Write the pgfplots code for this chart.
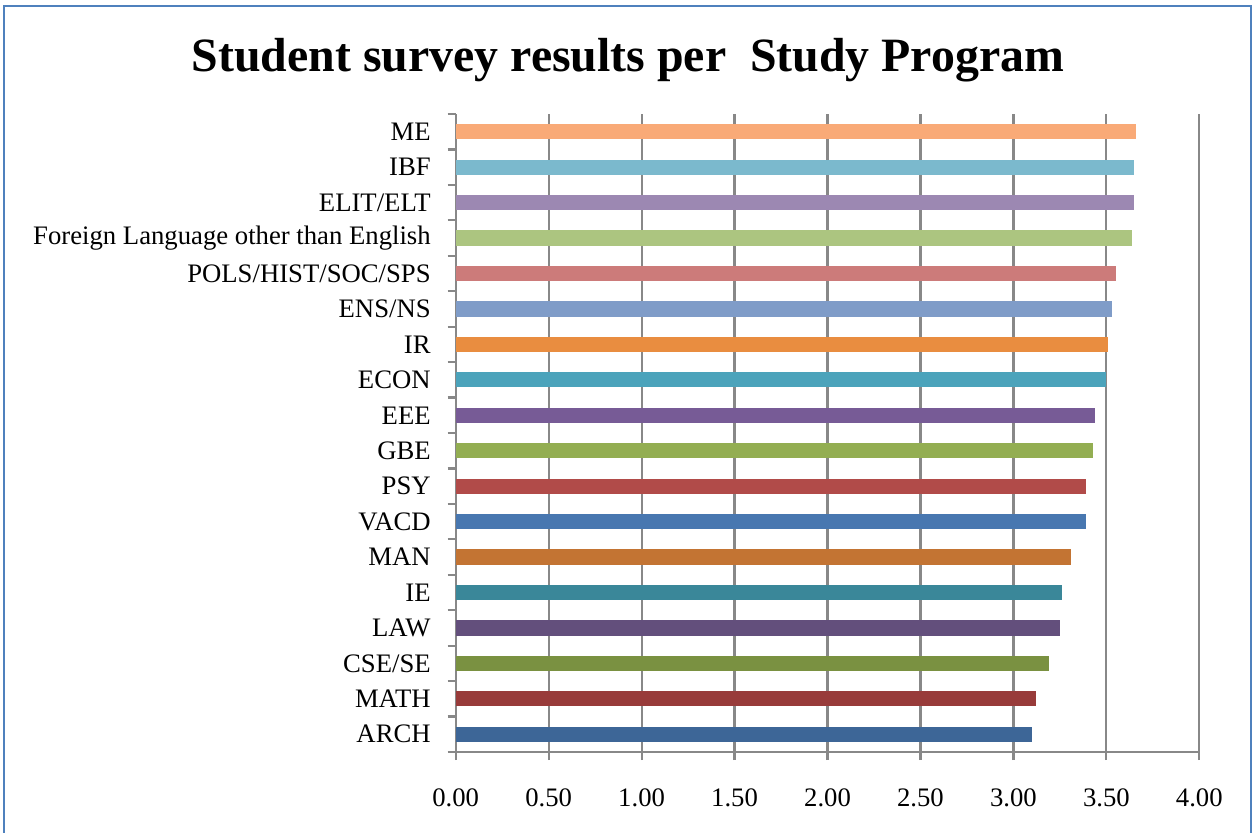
\documentclass[border=0pt]{standalone}
\usepackage{pgfplots}
\pgfplotsset{compat=1.18}
\usepackage{fontspec}
\setmainfont{Liberation Serif}
\definecolor{frameblue}{HTML}{4F81BD}
\definecolor{gridgray}{HTML}{888888}
\definecolor{cME}{HTML}{F9AA77}
\definecolor{cIBF}{HTML}{7BB9CD}
\definecolor{cELIT}{HTML}{9C88B2}
\definecolor{cFL}{HTML}{ACC580}
\definecolor{cPOLS}{HTML}{CC7B7A}
\definecolor{cENS}{HTML}{7F9CC8}
\definecolor{cIR}{HTML}{E98D40}
\definecolor{cECON}{HTML}{4BA3BB}
\definecolor{cEEE}{HTML}{775B96}
\definecolor{cGBE}{HTML}{93AE52}
\definecolor{cPSY}{HTML}{B14B49}
\definecolor{cVACD}{HTML}{4877B0}
\definecolor{cMAN}{HTML}{C37433}
\definecolor{cIE}{HTML}{3A8799}
\definecolor{cLAW}{HTML}{634F7C}
\definecolor{cCSE}{HTML}{7A9141}
\definecolor{cMATH}{HTML}{983B3A}
\definecolor{cARCH}{HTML}{3D6697}
\begin{document}
\begin{tikzpicture}[x=1bp,y=1bp]
\useasboundingbox (0,0) rectangle (627,416);
\draw[frameblue, line width=1bp] (2,-2) -- (2,413) -- (625.5,413) -- (625.5,-2);
\node[font=\bfseries\fontsize{24}{28}\selectfont] at (314,386) {Student survey results per\ \ Study Program};
\begin{axis}[
  at={(227.85bp,40bp)}, anchor=south west,
  scale only axis, width=371.8bp, height=319bp,
  xmin=0, xmax=4, ymin=-0.5, ymax=17.5,
  axis x line*=bottom, axis y line*=left,
  axis line style={gridgray, line width=1.1bp, -},
  xbar, bar shift=0pt, bar width=7.6bp,
  xtick={0,0.5,...,4},
  xticklabel={\pgfmathprintnumber[fixed,fixed zerofill,precision=2]{\tick}},
  /pgf/number format/assume math mode=true,
  xticklabel style={font=\fontsize{13.4}{15}\selectfont, yshift=-11bp},
  xmajorgrids, major grid style={gridgray, line width=1.1bp},
  x tick style={gridgray, line width=1.1bp},
  major tick length=4bp, tick align=outside,
  ytick={0,...,17},
  yticklabels={ARCH,MATH,CSE/SE,LAW,IE,MAN,VACD,PSY,GBE,EEE,ECON,IR,ENS/NS,POLS/HIST/SOC/SPS,Foreign Language other than English,ELIT/ELT,IBF,ME},
  y tick style={draw=none},
  minor ytick={-0.5,0.5,...,17.5},
  minor y tick style={gridgray, line width=1.1bp, draw=gridgray},
  minor tick length=4bp,
  yticklabel style={font=\fontsize{13.4}{15}\selectfont, xshift=-5bp},
  clip=false,
]
\addplot[fill=cARCH, draw=none] coordinates {(3.10,0)};
\addplot[fill=cMATH, draw=none] coordinates {(3.12,1)};
\addplot[fill=cCSE, draw=none] coordinates {(3.19,2)};
\addplot[fill=cLAW, draw=none] coordinates {(3.25,3)};
\addplot[fill=cIE, draw=none] coordinates {(3.26,4)};
\addplot[fill=cMAN, draw=none] coordinates {(3.31,5)};
\addplot[fill=cVACD, draw=none] coordinates {(3.39,6)};
\addplot[fill=cPSY, draw=none] coordinates {(3.39,7)};
\addplot[fill=cGBE, draw=none] coordinates {(3.43,8)};
\addplot[fill=cEEE, draw=none] coordinates {(3.44,9)};
\addplot[fill=cECON, draw=none] coordinates {(3.50,10)};
\addplot[fill=cIR, draw=none] coordinates {(3.51,11)};
\addplot[fill=cENS, draw=none] coordinates {(3.53,12)};
\addplot[fill=cPOLS, draw=none] coordinates {(3.55,13)};
\addplot[fill=cFL, draw=none] coordinates {(3.64,14)};
\addplot[fill=cELIT, draw=none] coordinates {(3.65,15)};
\addplot[fill=cIBF, draw=none] coordinates {(3.65,16)};
\addplot[fill=cME, draw=none] coordinates {(3.66,17)};
\end{axis}
\end{tikzpicture}
\end{document}
